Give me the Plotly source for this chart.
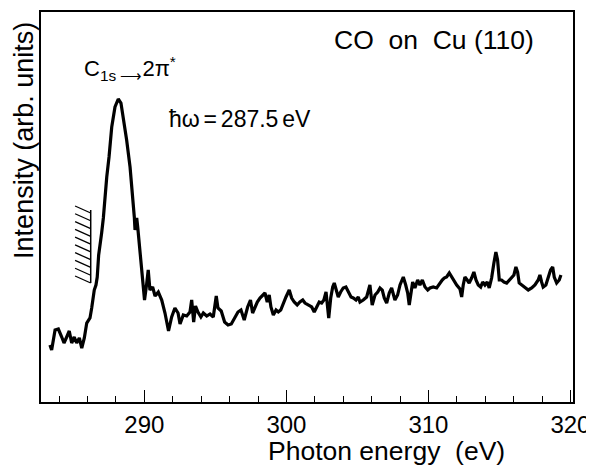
import numpy as np
import plotly.graph_objects as go

# Photon energy (eV) and intensity (arb. units)
energy = [
    283.35, 283.47, 283.71, 283.94, 284.18, 284.34, 284.53, 284.71, 284.88, 285.06,
    285.23, 285.42, 285.59, 285.77, 285.94, 286.05, 286.17, 286.29, 286.40, 286.47,
    286.59, 286.68, 286.78, 286.92, 286.99, 287.11, 287.23, 287.35, 287.51, 287.70,
    287.93, 288.16, 288.35, 288.51, 288.75, 288.99, 289.15, 289.29, 289.34, 289.46,
    289.53, 289.69, 289.81, 289.92, 290.01, 290.16, 290.27, 290.39, 290.58, 290.75,
    290.98, 291.22, 291.45, 291.70, 291.92, 292.15, 292.37, 292.51, 292.74, 292.98,
    293.21, 293.33, 293.47, 293.60, 293.77, 293.98, 294.15, 294.39, 294.62, 294.85,
    295.06, 295.18, 295.41, 295.65, 295.89, 296.12, 296.36, 296.59, 296.80, 297.03,
    297.27, 297.47, 297.62, 297.79, 297.95, 298.14, 298.33, 298.49, 298.65, 298.79,
    298.91, 299.08, 299.27, 299.43, 299.60, 299.78, 299.97, 300.20, 300.37, 300.55,
    300.76, 300.95, 301.15, 301.31, 301.54, 301.78, 301.96, 302.13, 302.31, 302.48,
    302.64, 302.79, 302.88, 302.98, 303.12, 303.26, 303.37, 303.54, 303.65, 303.82,
    304.00, 304.19, 304.36, 304.55, 304.71, 304.90, 305.06, 305.18, 305.41, 305.65,
    305.88, 306.04, 306.24, 306.43, 306.59, 306.75, 306.89, 307.06, 307.24, 307.41,
    307.64, 307.83, 308.00, 308.23, 308.40, 308.54, 308.65, 308.77, 308.89, 309.05,
    309.24, 309.40, 309.57, 309.76, 309.95, 310.11, 310.34, 310.58, 310.81, 310.97,
    311.11, 311.28, 311.47, 311.64, 311.82, 311.99, 312.22, 312.34, 312.45, 312.57,
    312.73, 312.87, 313.04, 313.20, 313.35, 313.51, 313.68, 313.82, 313.98, 314.14,
    314.28, 314.45, 314.61, 314.75, 314.87, 314.99, 315.15, 315.32, 315.51, 315.69,
    315.86, 316.02, 316.16, 316.28, 316.39, 316.56, 316.80, 317.03, 317.27, 317.50,
    317.73, 317.85, 317.97, 318.08, 318.27, 318.44, 318.60, 318.75, 318.86, 319.03,
    319.21, 319.33,
]
intensity = [
    57, 52, 72, 73, 65, 59, 65, 71, 59, 65,
    59, 64, 54, 64, 79, 82, 84, 94, 104, 112,
    117, 125, 147, 159, 169, 184, 207, 225, 245, 275,
    295, 303, 299, 285, 262, 235, 212, 185, 172, 184,
    175, 150, 132, 117, 102, 118, 132, 112, 115, 106,
    110, 102, 89, 71, 85, 94, 89, 78, 87, 86,
    90, 102, 80, 96, 90, 85, 89, 86, 88, 85,
    106, 94, 91, 80, 77, 78, 85, 90, 92, 82,
    95, 102, 89, 95, 100, 104, 107, 109, 100, 107,
    95, 87, 92, 90, 92, 99, 105, 112, 104, 100,
    97, 100, 102, 99, 97, 95, 90, 95, 100, 99,
    102, 110, 95, 84, 104, 115, 119, 110, 105, 110,
    114, 115, 110, 105, 104, 102, 105, 100, 102, 105,
    117, 97, 107, 110, 114, 112, 104, 99, 109, 114,
    102, 107, 117, 125, 117, 109, 97, 110, 120, 114,
    122, 117, 122, 115, 112, 114, 115, 114, 119, 122,
    124, 125, 129, 125, 120, 117, 113, 105, 117, 125,
    122, 119, 124, 130, 122, 117, 115, 120, 117, 120,
    114, 124, 139, 150, 142, 122, 122, 120, 119, 122,
    124, 127, 135, 130, 119, 117, 114, 112, 114, 117,
    122, 127, 120, 115, 117, 125, 132, 135, 125, 119,
    122, 127,
]

x_range = [282.72, 320.18]
y_range = [0, 390]
x_ticks = [290, 300, 310, 320]
x_tick_labels = ["290", "300", "310", "320"]

# threshold marker (hatched edge)
edge_energy = 286.22
hatch_top = 192
hatch_bottom = 119
hatch_count = 10
hatch_dx = 1.1
hatch_dy = 7

FONT = "Liberation Sans"

fig = go.Figure()
fig.add_trace(go.Scatter(
    x=energy, y=intensity, mode="lines",
    line=dict(color="black", width=3.2, shape="linear"),
    hoverinfo="skip", showlegend=False,
))

shapes = [dict(type="line", xref="x", yref="y",
               x0=edge_energy, x1=edge_energy, y0=hatch_bottom, y1=hatch_top,
               line=dict(color="black", width=1.5))]
for yr in np.linspace(hatch_top - 3, hatch_bottom, hatch_count):
    shapes.append(dict(type="line", xref="x", yref="y",
                       x0=edge_energy - hatch_dx, y0=yr + hatch_dy,
                       x1=edge_energy, y1=yr,
                       line=dict(color="black", width=1.3)))

annotations = [
    dict(text="CO  on  Cu (110)", xref="paper", yref="paper", x=0.547, y=0.928,
         xanchor="left", yanchor="middle", showarrow=False,
         font=dict(family=FONT, size=26.5, color="black")),
    dict(text="C<sub>1s \u27f6</sub>2\u03c0<sup>*</sup>", xref="paper", yref="paper",
         x=0.077, y=0.856, xanchor="left", yanchor="middle", showarrow=False,
         font=dict(family=FONT, size=22, color="black")),
    dict(text="\u0127\u03c9\u2006=\u2006287.5\u2006eV", xref="paper", yref="paper",
         x=0.236, y=0.726, xanchor="left", yanchor="middle", showarrow=False,
         font=dict(family=FONT, size=23, color="black")),
    dict(text="Intensity (arb. units)", xref="paper", yref="paper",
         x=-0.032, y=0.672, xanchor="center", yanchor="middle", textangle=-90,
         showarrow=False, font=dict(family=FONT, size=27, color="black")),
    dict(text="Photon energy  (eV)", xref="paper", yref="paper",
         x=0.6485, y=-0.126, xanchor="center", yanchor="middle",
         showarrow=False, font=dict(family=FONT, size=26.5, color="black")),
]

# the page body adds an 8 px offset, so the figure is shrunk by that much
fig.update_layout(
    template="none",
    width=586, height=461,
    margin=dict(l=33, r=21, t=4, b=67, autoexpand=False),
    paper_bgcolor="white", plot_bgcolor="white",
    shapes=shapes, annotations=annotations,
    font=dict(family=FONT, color="black"),
)
fig.update_xaxes(
    automargin=False,
    range=x_range, tickmode="array", tickvals=x_ticks, ticktext=x_tick_labels,
    ticks="inside", ticklen=12, tickwidth=1.3, tickcolor="black",
    minor=dict(ticks="inside", dtick=2, tick0=0, ticklen=6, tickwidth=1.3, tickcolor="black",
               showgrid=False),
    showline=True, linecolor="black", linewidth=1.5, mirror=True,
    showgrid=False, zeroline=False,
    tickfont=dict(family=FONT, size=24, color="black"),
)
fig.update_yaxes(
    automargin=False,
    range=y_range, showticklabels=False, ticks="",
    showline=True, linecolor="black", linewidth=1.5, mirror=True,
    showgrid=False, zeroline=False,
)

fig.write_html("out.html")
